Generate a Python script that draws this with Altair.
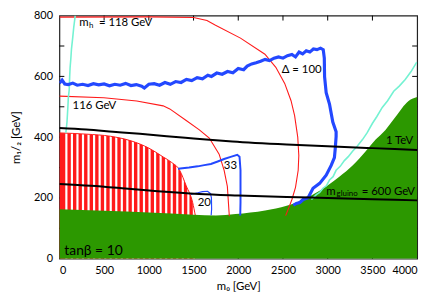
import altair as alt
import pandas as pd
import numpy as np

# ---------------- data ----------------
x_ticks = [0, 500, 1000, 1500, 2000, 2500, 3000, 3500, 4000]
y_ticks = [0, 100, 200, 300, 400, 500, 600, 700, 800]

green_m0 = [0, 500, 1000, 1500, 1750, 1970, 2300, 2541, 2689, 2836, 2983, 3130, 3278, 3425, 3536, 3646, 3757, 3904, 4000]
green_m12 = [163, 158, 152, 145, 142, 147, 159, 174, 190, 211, 238, 270, 307, 354, 392, 424, 466, 519, 532]

hatch_m0 = [0, 300, 570, 800, 1000, 1160, 1250, 1345, 1418, 1490, 1520]
hatch_m12 = [414, 410, 403, 388, 364, 335, 318, 291, 240, 185, 142]

mh118_m0 = [0, 1000, 1500, 1650, 1746, 2025, 2298, 2420, 2519, 2590, 2630, 2665, 2677, 2670, 2640, 2600, 2560, 2530]
mh118_m12 = [795, 796, 794, 784, 768, 726, 673, 630, 577, 520, 471, 400, 340, 291, 235, 195, 164, 142]

mh116_m0 = [0, 497, 865, 1160, 1234, 1418, 1565, 1676, 1786, 1842, 1878, 1897, 1900]
mh116_m12 = [535, 530, 519, 503, 493, 455, 424, 397, 344, 291, 238, 153, 140]

cyanL_m0 = [177, 160, 150, 135, 129, 120, 115, 110, 100, 95, 85, 78, 72]
cyanL_m12 = [800, 760, 730, 690, 662, 630, 600, 556, 530, 500, 450, 430, 414]

cyanR_m0 = [2818, 2873, 2910, 2947, 2985, 3020, 3060, 3094, 3140, 3186, 3230, 3278, 3330, 3389, 3440, 3499, 3550, 3610, 3670, 3738, 3800, 3867, 3930, 3996]
cyanR_m12 = [195, 211, 218, 232, 240, 259, 270, 291, 304, 323, 336, 354, 370, 392, 414, 445, 468, 498, 520, 551, 568, 590, 615, 647]

d100_m0 = [0, 30, 60, 100, 150, 200, 260, 320, 380, 440, 500, 560, 620, 680, 740, 800, 860, 920, 950, 1000,
           1060, 1120, 1180, 1240, 1300, 1360, 1420, 1480, 1540, 1600, 1660, 1700, 1760, 1820, 1880, 1940, 2000,
           2060, 2100, 2150, 2200, 2250, 2300, 2350, 2400, 2450, 2500, 2550, 2600, 2640, 2680, 2720, 2760, 2800,
           2840, 2880, 2920, 2950,
           2962, 2965, 2983, 3020, 3057, 3094, 3094, 3085, 3075, 3039, 2983, 2910, 2836, 2781, 2726, 2689, 2650, 2615]
d100_m12 = [578, 588, 575, 573, 578, 571, 574, 570, 576, 572, 575, 569, 574, 571, 577, 570, 573, 568, 562, 574,
            576, 571, 580, 574, 583, 580, 590, 586, 596, 592, 604, 600, 611, 607, 616, 612, 626,
            622, 634, 641, 645, 650, 656, 652, 660, 664, 660, 668, 672, 664, 680, 674, 684, 680,
            690, 688, 693, 688,
            660, 599, 546, 509, 450, 418, 402, 365, 333, 307, 275, 248, 232, 201, 195, 185, 182, 176]

d33_m0 = [1326, 1450, 1547, 1620, 1694, 1770, 1842, 1915, 1989, 2014, 2025, 2025, 2022]
d33_m12 = [296, 300, 304, 308, 312, 320, 328, 335, 342, 336, 291, 185, 142]

d20_m0 = [1470, 1547, 1600, 1657, 1690, 1700, 1702, 1697]
d20_m12 = [212, 217, 221, 222, 214, 200, 163, 143]

tev1_m0 = [0, 300, 600, 900, 1200, 1500, 1934, 2541, 3000, 3500, 4000]
tev1_m12 = [430, 425, 418, 411, 403, 396, 386, 376, 370, 364, 358]

g600_m0 = [0, 350, 700, 1100, 1565, 2000, 2541, 3000, 3500, 4000]
g600_m12 = [246, 240, 232, 222, 213, 208, 203, 200, 196, 192]

# ---------------- styling ----------------
W, H = 362, 246
FONT = "Lato"
GREEN = "#2c9800"
RED = "#ff1a1a"
BLUE = "#2348ff"
CYAN = "#74f2d2"

xs = alt.Scale(domain=[0, 4000], nice=False, zero=False)
ys = alt.Scale(domain=[0, 800], nice=False, zero=False)

X = alt.X("m0:Q", scale=xs, axis=alt.Axis(values=x_ticks, format="d", title="m₀ [GeV]", ticks=False, grid=False,
                                            domain=False, labelPadding=6, titlePadding=5))
Y = alt.Y("m12:Q", scale=ys, axis=alt.Axis(values=y_ticks, format="d", title="m₁/₂ [GeV]", ticks=False, grid=False,
                                             domain=False, labelPadding=7, titlePadding=12))


def df(m0, m12):
    return pd.DataFrame({"m0": m0, "m12": m12, "i": range(len(m0))})


def line(m0, m12, color, width, interp="linear"):
    return alt.Chart(df(m0, m12)).mark_line(color=color, strokeWidth=width, clip=True,
                                              interpolate=interp).encode(x=X, y=Y, order="i:Q")


def label(m0, m12, text, size=11.5, align="left", dx=0, dy=0):
    d = pd.DataFrame({"m0": [m0], "m12": [m12], "t": [text]})
    return alt.Chart(d).mark_text(align=align, baseline="middle", font=FONT, fontSize=size,
                                  color="black", dx=dx, dy=dy).encode(x=X, y=Y, text="t:N")


layers = []

# inside tick marks (mirrored on all four sides)
xt = pd.DataFrame({"m0": x_ticks[1:-1]})
yt = pd.DataFrame({"m12": y_ticks[1:-1]})
layers.append(alt.Chart(xt).mark_rule(color="black", strokeWidth=1).encode(x=X, y=alt.value(H), y2=alt.value(H - 5)))
layers.append(alt.Chart(xt).mark_rule(color="black", strokeWidth=1).encode(x=X, y=alt.value(0), y2=alt.value(5)))
layers.append(alt.Chart(yt).mark_rule(color="black", strokeWidth=1).encode(y=Y, x=alt.value(0), x2=alt.value(5)))
layers.append(alt.Chart(yt).mark_rule(color="black", strokeWidth=1).encode(y=Y, x=alt.value(W), x2=alt.value(W - 5)))

# red hatched region: red fill with white vertical stripes over it
layers.append(alt.Chart(df(hatch_m0, hatch_m12)).mark_area(color=RED, opacity=1, clip=True,
                                                           interpolate="monotone").encode(x=X, y=Y, y2=alt.datum(0)))
stripes = pd.DataFrame({"m0": np.arange(78, 1530, 62)})
layers.append(alt.Chart(stripes).mark_rule(color="white", strokeWidth=2.2, clip=True).encode(
    x=X, y=alt.datum(0), y2=alt.datum(416)))
layers.append(line(hatch_m0, hatch_m12, RED, 1, "monotone"))

# excluded (green) region
layers.append(alt.Chart(df(green_m0, green_m12)).mark_area(color=GREEN, opacity=1, clip=True,
                                                           interpolate="monotone").encode(x=X, y=Y, y2=alt.datum(0)))

# Higgs mass contours
layers.append(line(mh118_m0, mh118_m12, RED, 1.1))
layers.append(line(mh116_m0, mh116_m12, RED, 1.1))
layers.append(line(cyanL_m0, cyanL_m12, CYAN, 1.6))
layers.append(line(cyanR_m0, cyanR_m12, CYAN, 1.6))

# fine-tuning contours
layers.append(line(d100_m0, d100_m12, BLUE, 3.2))
layers.append(line(d33_m0, d33_m12, BLUE, 2))
layers.append(line(d20_m0, d20_m12, BLUE, 1.2))

# gluino mass contours
layers.append(line(tev1_m0, tev1_m12, "black", 2, "monotone"))
layers.append(line(g600_m0, g600_m12, "black", 2, "monotone"))

# labels
layers.append(label(221, 774, "m"))
layers.append(label(221, 774, "h", size=8, dx=10, dy=3))
layers.append(label(221, 774, "= 118 GeV", dx=20))
layers.append(label(147, 503, "116 GeV"))
layers.append(label(2486, 620, "Δ = 100"))
layers.append(label(3956, 386, "1 TeV", align="right"))
layers.append(label(2983, 220, "m"))
layers.append(label(2983, 220, "gluino", size=8, dx=10.5, dy=2))
layers.append(label(2983, 220, "= 600 GeV", dx=36))
layers.append(label(1912, 304, "33", align="center"))
layers.append(label(1620, 182, "20", align="center"))
layers.append(label(55, 25, "tanβ = 10", size=14))

chart = alt.layer(*layers).properties(
    width=W, height=H,
    autosize=alt.AutoSizeParams(type="none"),
    padding={"left": 52, "top": 6, "right": 12, "bottom": 36},
).configure_view(stroke="#222", strokeWidth=1.2).configure_axis(
    labelFont=FONT, labelFontSize=11, labelColor="black",
    titleFont=FONT, titleFontSize=11.5, titleFontWeight="normal", titleColor="black",
)

chart.save("out.html", embed_options={"renderer": "svg", "actions": False})
